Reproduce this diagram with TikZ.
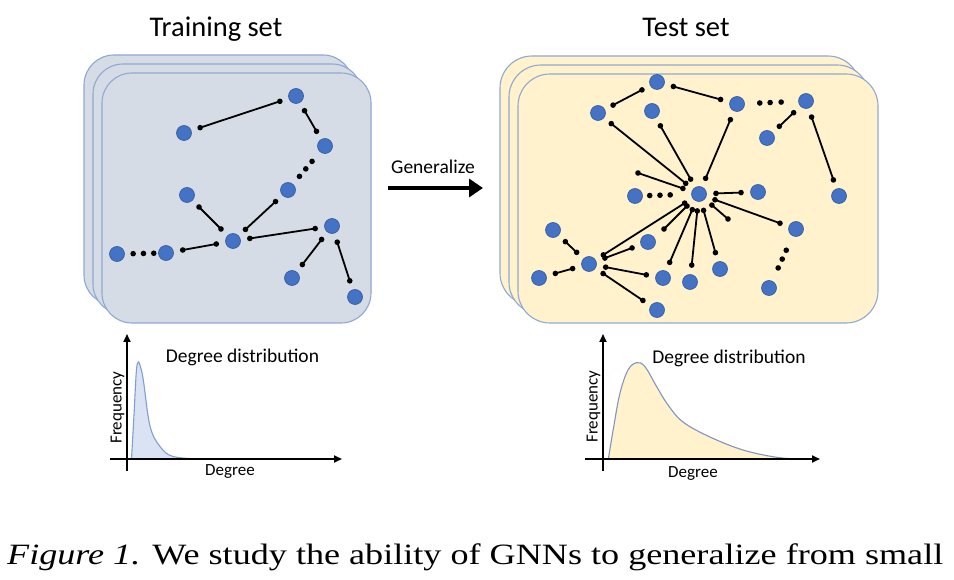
\documentclass[tikz,border=0pt]{standalone}
\usepackage{fontspec}
\setmainfont{Liberation Serif}
\newfontfamily\calib{Carlito}
\usetikzlibrary{arrows.meta,calc}
\definecolor{boxedge}{RGB}{143,168,212}
\definecolor{trainfill}{RGB}{214,220,229}
\definecolor{testfill}{RGB}{255,242,204}
\definecolor{nodeblue}{RGB}{68,114,196}
\definecolor{nodeedge}{RGB}{50,88,155}
\definecolor{dtrainfill}{RGB}{218,227,243}
\definecolor{dtrainline}{RGB}{127,159,209}
\definecolor{dtestline}{RGB}{128,150,190}
% connector between two named nodes, with a dot at each end
\newcommand\gedge[2]{%
  \draw[gline] (#1) -- (#2);
  \fill[black] ($(#1)!17pt!(#2)$) circle (2.8pt) ($(#2)!17pt!(#1)$) circle (2.8pt);}
% connector from a named node to a free coordinate
\newcommand\ghalf[2]{%
  \draw[gline, shorten >=0pt] (#1) -- (#2);
  \fill[black] ($(#1)!17pt!(#2)$) circle (2.8pt) (#2) circle (2.8pt);}
\begin{document}
\begin{tikzpicture}[x=1pt,y=-1pt,
  gnode/.style={circle, fill=nodeblue, draw=nodeedge, line width=0.6pt, minimum size=15pt, inner sep=0pt},
  gline/.style={line width=1.8pt, shorten <=9.5pt, shorten >=9.5pt},
  trainbox/.style={draw=boxedge, fill=trainfill, rounded corners=30pt, line width=1.1pt},
  testbox/.style={draw=boxedge, fill=testfill, rounded corners=32pt, line width=1.1pt},
  axis/.style={line width=1.8pt, arrows={-Triangle[length=8pt,width=7pt]}},
  title/.style={font=\calib\fontsize{28.5}{32}\selectfont, anchor=base, inner sep=0pt},
  dlabel/.style={font=\calib\fontsize{19.5}{22}\selectfont, anchor=base, inner sep=0pt},
  alabel/.style={font=\calib\fontsize{17}{20}\selectfont, anchor=base, inner sep=0pt},
]
\useasboundingbox (0,0) rectangle (954,580);
\fill[white] (0,0) rectangle (954,580);

% ---------------- Training set ----------------
\node[title] (trtitle) at (216,36.7) {Training set};
\draw[trainbox] (84,55) rectangle (353,305);
\draw[trainbox] (93,64) rectangle (362,314);
\draw[trainbox] (102,73) rectangle (371,323);

\node[gnode] (A) at (184,133) {};
\node[gnode] (B) at (296,96) {};
\node[gnode] (Cc) at (325,146) {};
\node[gnode] (D) at (288,190) {};
\node[gnode] (E) at (187,195) {};
\node[gnode] (F) at (233,241) {};
\node[gnode] (G) at (166,253) {};
\node[gnode] (H) at (117,254) {};
\node[gnode] (I) at (332,226) {};
\node[gnode] (J) at (292,278) {};
\node[gnode] (K) at (355,297) {};

\gedge{A}{B}
\gedge{B}{Cc}
\gedge{E}{F}
\gedge{F}{D}
\gedge{G}{F}
\gedge{F}{I}
\gedge{I}{J}
\gedge{I}{K}
\foreach \p in {0.35,0.52,0.69} \fill ($(Cc)!\p!(D)$) circle (2.8pt);
\foreach \p in {0.33,0.54,0.75} \fill ($(H)!\p!(G)$) circle (2.8pt);

% ---------------- Generalize ----------------
\node[dlabel] (gen) at (433,173.5) {Generalize};
\coordinate (gs) at (388,188);
\coordinate (ge) at (483,188);
\draw[line width=4pt, arrows={-Triangle[length=14pt,width=18pt]}] (gs) -- (ge);

% ---------------- Test set ----------------
\node[title] (tetitle) at (686,36.7) {Test set};
\draw[testbox] (500,56) rectangle (860,305);
\draw[testbox] (509,65) rectangle (869,314);
\draw[testbox] (518,74) rectangle (878,323);

\node[gnode] (T1) at (657,82) {};
\node[gnode] (T2) at (598,113) {};
\node[gnode] (T3) at (652,111) {};
\node[gnode] (T4) at (737,104) {};
\node[gnode] (T5) at (806,101) {};
\node[gnode] (T6) at (767,138) {};
\node[gnode] (T7) at (839,196) {};
\node[gnode] (C) at (699,194) {};
\node[gnode] (T8) at (635,196) {};
\node[gnode] (T9) at (758,192) {};
\node[gnode] (T10) at (796,229) {};
\node[gnode] (T11) at (769,288) {};
\node[gnode] (T12) at (553,230) {};
\node[gnode] (L) at (589,264) {};
\node[gnode] (T13) at (539,278) {};
\node[gnode] (T14) at (648,242) {};
\node[gnode] (T15) at (663,278) {};
\node[gnode] (T16) at (690,282) {};
\node[gnode] (T17) at (720,269) {};
\node[gnode] (T18) at (657,310) {};
\coordinate (d1) at (638,173);
\coordinate (d2) at (728,219);
\coordinate (d3) at (664,229);

\gedge{T1}{T4}
\gedge{T2}{T1}
\gedge{T2}{C}
\gedge{T3}{C}
\gedge{T4}{C}
\gedge{T5}{T6}
\gedge{T5}{T7}
\gedge{C}{T9}
\gedge{C}{T10}
\gedge{C}{L}
\gedge{C}{T15}
\gedge{C}{T16}
\gedge{C}{T17}
\gedge{L}{T14}
\gedge{L}{T15}
\gedge{L}{T18}
\gedge{L}{T12}
\gedge{L}{T13}
\ghalf{C}{d1}
\ghalf{C}{d2}
\ghalf{C}{d3}
\foreach \p in {0.33,0.48,0.64} \fill ($(T4)!\p!(T5)$) circle (2.8pt);
\foreach \p in {0.23,0.39,0.55} \fill ($(T8)!\p!(C)$) circle (2.8pt);
\foreach \p in {0.36,0.51,0.66} \fill ($(T10)!\p!(T11)$) circle (2.8pt);

% ---------------- Degree distributions ----------------
\filldraw[fill=dtrainfill, draw=dtrainline, line width=1.1pt]
  plot[smooth, tension=0.6] coordinates {(131.5,459) (134,415) (136.3,372) (138.3,362) (140.5,367) (143.3,380) (150,426) (160,446.5) (173,456.5) (200,459)} -- cycle;
\coordinate (yb1) at (127,471);
\coordinate (y1) at (127,334);
\coordinate (xs1) at (110,459);
\coordinate (x1) at (342,459);
\draw[axis] (yb1) -- (y1);
\draw[axis] (xs1) -- (x1);
\node[dlabel] (dd1) at (242.5,362.7) {Degree distribution};
\node[alabel] (deg1) at (230,475.5) {Degree};
\node[alabel, rotate=90] (fr1) at (121.7,407.5) {Frequency};

\filldraw[fill=testfill, draw=dtestline, line width=1.1pt]
  plot[smooth, tension=0.6] coordinates {(608.3,459.3) (614,425) (620,393) (628,370) (636.7,362.7) (645,366.7) (656.7,386.7) (668,405) (683,422) (710,437) (743,450) (776.7,457.3) (803,459.3)} -- cycle;
\coordinate (yb2) at (603,471);
\coordinate (y2) at (603,334);
\coordinate (xs2) at (585,459);
\coordinate (x2) at (820,459);
\draw[axis] (yb2) -- (y2);
\draw[axis] (xs2) -- (x2);
\node[dlabel] (dd2) at (729,363.3) {Degree distribution};
\node[alabel] (deg2) at (693,477) {Degree};
\node[alabel, rotate=90] (fr2) at (597.7,406.7) {Frequency};

% ---------------- Caption ----------------
\node[anchor=base west, inner sep=0pt, font=\fontsize{29.5}{34}\selectfont] (cap) at (7,564) {\scalebox{1.225}[1]{\textit{Figure 1.} We study the ability of GNNs to generalize from small}};
\end{tikzpicture}
\end{document}
